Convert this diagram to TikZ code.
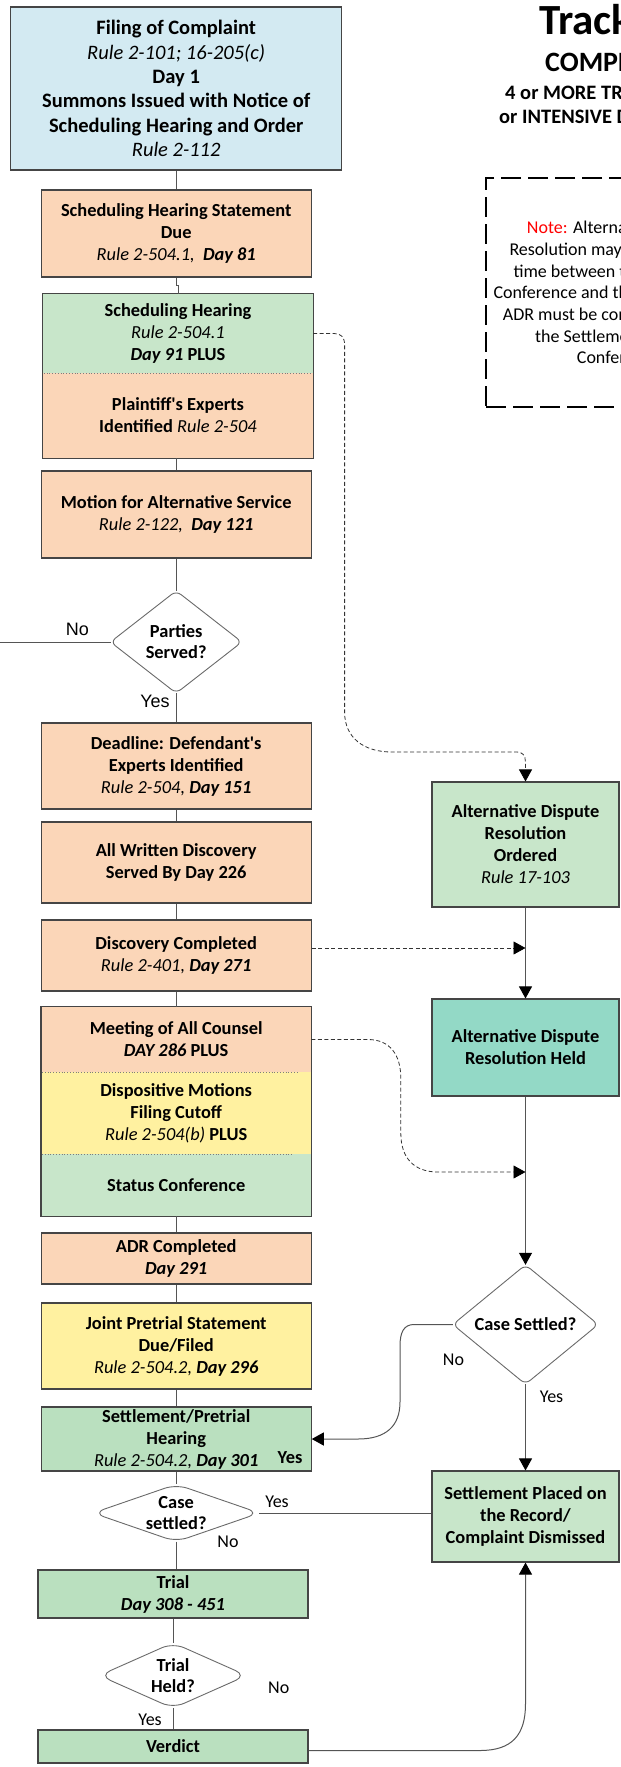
\documentclass[tikz,border=0pt]{standalone}
\usepackage{fontspec}
\setmainfont{Carlito}
\newfontfamily\arialfont{Liberation Sans}
\usetikzlibrary{arrows.meta}
\definecolor{lblue}{HTML}{D3EAF2}
\definecolor{peach}{HTML}{FBD6B8}
\definecolor{lgreen}{HTML}{C8E6CA}
\definecolor{mgreen}{HTML}{BAE0BF}
\definecolor{teal}{HTML}{93D9C6}
\definecolor{lyellow}{HTML}{FFF1A0}
\definecolor{boxline}{HTML}{454545}
\definecolor{connc}{HTML}{555555}
\newcommand\rulei[1]{{\normalfont\itshape #1}}
\newcommand\dayb[1]{{\bfseries\itshape #1}}
\begin{document}
\begin{tikzpicture}[x=1pt,y=-1pt,
  boxfont/.style={font=\fontsize{18.4}{22}\selectfont\bfseries},
  box/.style={boxfont, draw=boxline, line width=1.1pt, align=center, inner sep=0pt, text=black},
  sect/.style={boxfont, align=center, inner sep=0pt, text=black},
  outline/.style={draw=boxline, line width=1.1pt},
  divider/.style={draw=boxline!70, line width=0.8pt, dotted},
  dia/.style={boxfont, align=center, inner sep=0pt},
  diaborder/.style={draw=boxline!80, line width=0.9pt, fill=white},
  conn/.style={draw=connc, line width=1pt},
  dconn/.style={draw=black!80, line width=0.8pt, dash pattern=on 4pt off 2.5pt},
  tip/.style={-{Triangle[length=12pt,width=13pt,black]}},
  lbl/.style={font=\fontsize{18}{20}\selectfont, inner sep=0pt},
  albl/.style={font=\arialfont\fontsize{18}{20}\selectfont, inner sep=0pt},
  notetext/.style={font=\fontsize{18}{21.7}\selectfont, anchor=base west, inner sep=0pt},
  title/.style={font=\bfseries, anchor=base west, inner sep=0pt}]
\useasboundingbox (0,0) rectangle (621,1767);
\clip (0,0) rectangle (621,1767);

% ---------- title (running off the right edge) ----------
\node[title, font=\bfseries\fontsize{43}{46}\selectfont] (t1) at (539,34) {Track};
\node[title, font=\bfseries\fontsize{28}{30}\selectfont] (t2) at (545,71) {COMPLEX};
\node[title, font=\bfseries\fontsize{20.5}{22}\selectfont] (t3) at (505,99) {4 or MORE TRIAL DAYS};
\node[title, font=\bfseries\fontsize{20.5}{22}\selectfont] (t4) at (499,123) {or INTENSIVE DISCOVERY};

% ---------- note box ----------
\node[draw=black, line width=2.2pt, dash pattern=on 20pt off 7pt,
      minimum width=200, minimum height=229, inner sep=0pt] (note) at (586,292.5) {};
\node[notetext] (n1) at (526.7,233.5) {\textcolor{red}{Note:} Alternative Dispute};
\node[notetext] (n2) at (509.3,255.3) {Resolution may occur};
\node[notetext] (n3) at (513.3,277) {time between the};
\node[notetext] (n4) at (493.3,298.7) {Conference and the};
\node[notetext] (n5) at (502.7,320.4) {ADR must be completed};
\node[notetext] (n6) at (535,342.1) {the Settlement};
\node[notetext] (n7) at (576.7,363.8) {Conference};

% ---------- main column ----------
\node[box, fill=lblue, minimum width=331, minimum height=163,
      font=\fontsize{20.5}{24.4}\selectfont\bfseries] (top) at (176.2,88.5)
  {Filing of Complaint\\ \rulei{Rule 2-101; 16-205(c)}\\ Day 1\\
   Summons Issued with Notice of\\ Scheduling Hearing and Order\\ \rulei{Rule 2-112}};
\node[box, fill=peach, minimum width=270, minimum height=87] (stmt) at (176.2,233.5)
  {Scheduling Hearing Statement\\ Due\\ \rulei{Rule 2-504.1,\ \ }\dayb{Day 81}};

\node[sect, fill=lgreen, minimum width=270, minimum height=79] (hear) at (178,333.5)
  {Scheduling Hearing\\ \rulei{Rule 2-504.1}\\ \dayb{Day 91} PLUS};
\node[sect, fill=peach, minimum width=270, minimum height=85] (pexp) at (178,415.5)
  {Plaintiff\textquotesingle s Experts\\ Identified \rulei{Rule 2-504}};
\draw[outline] (hear.north west) rectangle (pexp.south east);
\draw[divider] ([xshift=1pt]hear.south west) -- ([xshift=-1pt]hear.south east);

\node[box, fill=peach, minimum width=270, minimum height=87] (mot) at (176.2,514.5)
  {Motion for Alternative Service\\ \rulei{Rule 2-122,\ \ }\dayb{Day 121}};

\node[dia, minimum width=131, minimum height=102] (parties) at (176.2,642) {};
\draw[diaborder, rounded corners=6pt] (parties.west) -- (parties.north) -- (parties.east) -- (parties.south) -- cycle;
\node[dia, font=\bfseries\fontsize{18.4}{21}\selectfont] at (parties.center) {Parties\\ Served?};

\node[box, fill=peach, minimum width=270, minimum height=86] (defx) at (176.2,766)
  {Deadline: Defendant\textquotesingle s\\ Experts Identified\\ \rulei{Rule 2-504, }\dayb{Day 151}};
\node[box, fill=peach, minimum width=270, minimum height=81] (writ) at (176.2,862.5)
  {All Written Discovery\\ Served By Day 226};
\node[box, fill=peach, minimum width=270, minimum height=71] (disc) at (176.2,955.5)
  {Discovery Completed\\ \rulei{Rule 2-401, }\dayb{Day 271}};

\node[sect, fill=peach, minimum width=270, minimum height=65] (meet) at (176.2,1039.5)
  {Meeting of All Counsel\\ \dayb{DAY 286} PLUS};
\node[sect, fill=lyellow, minimum width=270, minimum height=82] (disp) at (176.2,1113)
  {Dispositive Motions\\ Filing Cutoff\\ \rulei{Rule 2-504(b)} PLUS};
\node[sect, fill=lgreen, minimum width=270, minimum height=62] (stat) at (176.2,1185)
  {Status Conference};
\draw[outline] (meet.north west) rectangle (stat.south east);
\draw[divider] ([xshift=1pt]meet.south west) -- ([xshift=-12pt]meet.south east);
\draw[divider] ([xshift=1pt]disp.south west) -- ([xshift=-20pt]disp.south east);

\node[box, fill=peach, minimum width=270, minimum height=51] (adrc) at (176.2,1258.5)
  {ADR Completed\\ \dayb{Day 291}};
\node[box, fill=lyellow, minimum width=270, minimum height=86] (jps) at (176.2,1346)
  {Joint Pretrial Statement\\ Due/Filed\\ \rulei{Rule 2-504.2, }\dayb{Day 296}};
\node[box, fill=mgreen, minimum width=270, minimum height=64] (setpre) at (176.2,1439)
  {Settlement/Pretrial\\ Hearing\\ \rulei{Rule 2-504.2, }\dayb{Day 301}};
\node[sect] (spyes) at (290,1458) {Yes};

\node[dia, minimum width=166, minimum height=57] (cs2) at (176.2,1513) {};
\draw[diaborder, rounded corners=12pt] (cs2.west) -- (cs2.north) -- (cs2.east) -- (cs2.south) -- cycle;
\node[dia, font=\bfseries\fontsize{18.4}{21}\selectfont] at (cs2.center) {Case\\ settled?};

\node[box, fill=mgreen, minimum width=270, minimum height=48] (trial) at (173,1594)
  {Trial\\ \dayb{Day 308 - 451}};

\node[dia, minimum width=147, minimum height=65] (theld) at (173,1675.5) {};
\draw[diaborder, rounded corners=12pt] (theld.west) -- (theld.north) -- (theld.east) -- (theld.south) -- cycle;
\node[dia, font=\bfseries\fontsize{18.4}{21}\selectfont] at (theld.center) {Trial\\ Held?};

\node[box, fill=mgreen, minimum width=270, minimum height=33] (verdict) at (173,1746.5) {Verdict};

% ---------- right column ----------
\node[box, fill=lgreen, minimum width=187, minimum height=125] (adro) at (525.5,844.5)
  {Alternative Dispute\\ Resolution\\ Ordered\\ \rulei{Rule 17-103}};
\node[box, fill=teal, minimum width=187, minimum height=97] (adrh) at (525.5,1047.5)
  {Alternative Dispute\\ Resolution Held};

\node[dia, minimum width=145, minimum height=119] (cs1) at (525.5,1324.5) {};
\draw[diaborder, rounded corners=6pt] (cs1.west) -- (cs1.north) -- (cs1.east) -- (cs1.south) -- cycle;
\node[dia] at (cs1.center) {Case Settled?};

\node[box, fill=lgreen, minimum width=187, minimum height=91] (spr) at (525.5,1516.5)
  {Settlement Placed on\\ the Record/\\ Complaint Dismissed};

% ---------- connectors ----------
\coordinate (noend) at (0,642);
\coordinate (m3) at (525.5,1172);

\draw[conn] (top.south) -- (stmt.north);
\draw[conn] (stmt.south) -- ++(0,8) -| (hear.north);
\draw[conn] (pexp.south -| mot.north) -- (mot.north);
\draw[conn] (mot.south) -- (parties.north);
\draw[conn] (parties.west) -- (noend);
\draw[conn] (parties.south) -- (defx.north);
\draw[conn] (defx.south) -- (writ.north);
\draw[conn] (writ.south) -- (disc.north);
\draw[conn] (disc.south) -- (meet.north);
\draw[conn] (stat.south) -- (adrc.north);
\draw[conn] (adrc.south) -- (jps.north);
\draw[conn] (jps.south) -- (setpre.north);
\draw[conn] (setpre.south) -- (cs2.north);
\draw[conn] (cs2.south) -- (cs2.south |- trial.north);
\draw[conn] (trial.south) -- (theld.north);
\draw[conn] (theld.south) -- (verdict.north);

\draw[conn, tip] (adro.south) -- (adrh.north);
\draw[conn, tip] (adrh.south) -- (cs1.north);
\draw[conn, tip] (cs1.south) -- (spr.north);
\draw[conn] (cs2.east) -- (cs2.east -| spr.west);
\draw[conn, tip] (cs1.west) -- (414,1324.5) .. controls (404,1324.5) and (400,1332) .. (400,1346)
  -- (400,1402) .. controls (400,1426) and (386,1439) .. (358,1439) -- (setpre.east);
\draw[conn, tip] ([yshift=-4pt]verdict.east) -- (480,1750.5) .. controls (512,1750.5) and (525.5,1735) .. (525.5,1704)
  -- (spr.south);

\draw[dconn, tip] (hear.east) -- (334,333.5) .. controls (341,333.5) and (344.6,337) .. (344.6,345)
  -- (344.6,712) .. controls (344.6,738) and (364,752) .. (392,752) -- (517,752)
  .. controls (522,752) and (525.5,755) .. (525.5,762) -- (adro.north);
\draw[dconn, tip] ([yshift=7.5pt]disc.east) -- ([yshift=7.5pt]disc.east -| adro.south);
\draw[dconn, tip] (meet.east) -- (368,1039.5) .. controls (390,1039.5) and (400.8,1055) .. (400.8,1078)
  -- (400.8,1133) .. controls (400.8,1158) and (414,1172) .. (438,1172) -- (m3);

% ---------- branch labels ----------
\node[albl] (lno1) at (77.5,629) {No};
\node[albl] (lyes1) at (155,701.7) {Yes};
\node[lbl] (lno2) at (453.5,1360) {No};
\node[lbl] (lyes2) at (551.5,1397) {Yes};
\node[lbl] (lyes3) at (277,1501.5) {Yes};
\node[lbl] (lno3) at (228,1541.7) {No};
\node[lbl] (lno4) at (278.8,1688) {No};
\node[lbl] (lyes4) at (150,1720) {Yes};
\end{tikzpicture}
\end{document}
